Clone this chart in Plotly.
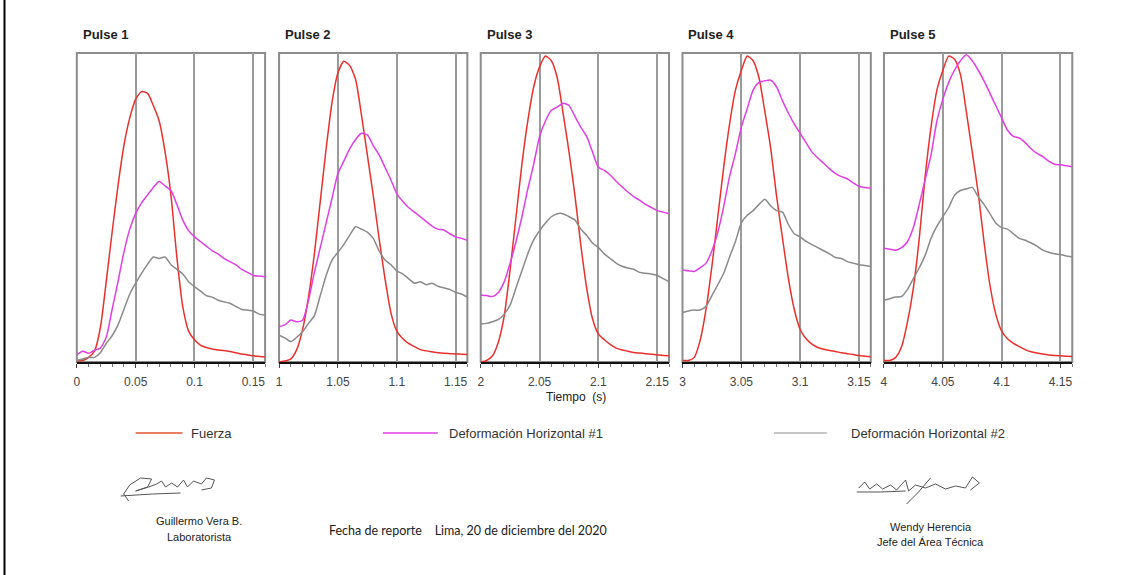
import plotly.graph_objects as go

W, H = 1132, 575

# ---------------- data (y in % of panel height) ----------------
PULSES = ["Pulse 1", "Pulse 2", "Pulse 3", "Pulse 4", "Pulse 5"]
PULSE_START = [0, 1, 2, 3, 4]          # s
T_REL = [round(k * 0.005, 3) for k in range(33)]   # 0 .. 0.16 s within each pulse
TICK_REL = [0, 0.05, 0.1, 0.15]

FUERZA = [
    [0.3, 0.5, 1.5, 3.5, 11, 26, 42, 57, 70, 79, 85, 87.5, 87, 83, 78, 68, 54, 34, 18, 10,
     7.2, 5.5, 4.7, 4.2, 3.9, 3.7, 3.4, 3.0, 2.6, 2.3, 2.0, 1.8, 1.6],
    [0, 0.3, 1, 4, 10.5, 21, 35, 52, 69, 84, 93.5, 97.3, 96, 91.5, 80, 67, 54, 40, 27, 16,
     10, 7.6, 6, 5, 4, 3.6, 3.3, 3.0, 2.8, 2.7, 2.6, 2.5, 2.4],
    [0, 0.5, 2, 6.5, 15, 30, 47, 64, 78, 89, 95.5, 99, 97.5, 92, 80.5, 68, 54, 38, 24, 14,
     9, 7.2, 5.7, 4.5, 3.9, 3.5, 3.1, 2.9, 2.7, 2.5, 2.3, 2.1, 2.0],
    [0.5, 0.5, 1.5, 7, 17, 31, 47, 63, 77, 88, 94.3, 99, 97.5, 92, 81, 69, 53.5, 40, 27, 17,
     10.5, 7.5, 5.8, 4.7, 4.1, 3.7, 3.4, 3.0, 2.7, 2.4, 2.1, 1.9, 1.7],
    [0.5, 0.5, 1.5, 5, 13, 24, 40, 60, 76, 88, 94.3, 99, 98, 93, 81, 68, 55, 39, 25, 15.5,
     10, 7.5, 6, 5, 4, 3.3, 2.9, 2.6, 2.3, 2.1, 2.0, 1.9, 1.8],
]
DEF_H1 = [
    [2.3, 3.5, 2.8, 3.8, 4.5, 8, 17, 26, 35.5, 43, 48, 51.5, 54, 56.5, 58.4, 57, 55.5, 51, 46, 42.5,
     40.5, 39, 37.5, 36, 35, 33.5, 32.5, 31.5, 30, 29, 28, 27.8, 27.6],
    [11.4, 12, 13.6, 13, 13.5, 20, 29, 37, 45, 53, 61, 65, 69, 72, 74, 73.5, 70, 67, 63, 59,
     54.5, 52, 50, 48.5, 47, 45.5, 44, 43, 42.7, 41.5, 40.5, 40, 39.4],
    [21.7, 21.5, 21.2, 22.5, 26, 32, 39, 47, 56, 64, 73, 78, 81.5, 82.5, 83.7, 83, 79.5, 76, 73, 68,
     63, 62, 60.5, 58.5, 56.7, 55, 53.5, 52.4, 51, 50, 49, 48.5, 48],
    [29.8, 29.5, 29.3, 30.5, 32, 36, 42, 50.3, 60, 67.5, 76, 82, 88, 90.5, 91, 91.2, 89, 84.5, 80.5, 77,
     74, 71, 68, 66, 64.3, 62.5, 61, 60, 59.3, 58, 56.8, 56.5, 56.2],
    [36.8, 36.5, 36.2, 37, 39, 43.5, 51, 59, 67, 78, 85, 90.5, 94.5, 97.5, 99.4, 97.5, 94.5, 91, 87, 83,
     79, 75, 73, 72.5, 71, 69, 67.5, 66.5, 65, 64, 63.8, 63.5, 63.2],
]
DEF_H2 = [
    [0.5, 1, 1.5, 1.5, 3, 6, 8.5, 12, 17, 22, 25.5, 28.7, 31.5, 34, 33.5, 34, 31.5, 30, 28.5, 26,
     24.4, 23, 21.5, 21, 20, 19.5, 19, 18, 17, 16.8, 16.5, 15.5, 15.2],
    [8.7, 7.8, 6.6, 8, 9.8, 12.5, 15, 21.5, 28, 33, 35.5, 38, 41, 43.8, 43, 42, 40, 36, 33, 31.5,
     29.5, 28.5, 27, 25.5, 26, 25, 25.5, 24.5, 24, 23.5, 22.5, 22, 21],
    [12.3, 12.5, 13, 13.8, 15.5, 18.5, 24, 29.5, 35, 39.5, 42.5, 45, 47, 48, 48, 47, 46, 43, 41, 38.5,
     37, 35, 33.5, 32, 31, 30.4, 30, 29, 28.7, 28.5, 28, 27, 26],
    [16, 16.5, 16.8, 16.8, 18, 21.5, 25, 28.7, 34, 39, 45, 47.5, 49, 51, 52.7, 50.5, 49, 48.5, 44.5, 41.5,
     40.5, 39, 38, 37, 36, 35, 33.8, 33.5, 32.5, 32, 31.5, 31.2, 30.9],
    [20, 20.5, 21, 21.2, 23.5, 27, 30.5, 34.5, 40, 44, 47, 50, 54, 55.5, 56, 56.5, 53.5, 51, 48, 45,
     43.5, 43, 41.5, 40, 39.4, 38.5, 37.5, 36.2, 35.5, 35, 34.8, 34.3, 34],
]
SERIES_NAMES = ["Fuerza", "Deformación Horizontal #1", "Deformación Horizontal #2"]

# ---------------- styling ----------------
COLORS = ["#e8302c", "#e03ee6", "#8a8a8a"]
LEGEND_COLORS = ["#e4522e", "#e03ee6", "#b5b5b5"]
FONT = "Liberation Sans, Arial, sans-serif"

PANEL_LEFT = [74, 276.8, 479, 681.3, 883.3]   # px
PANEL_W = 188.8
Y_DOM = [(H - 362) / H, (H - 53) / H]

def px(x):
    return x / W

def py(y):
    return 1 - y / H

fig = go.Figure()
layout = {}
shapes = []
annotations = []

for i in range(5):
    sfx = "" if i == 0 else str(i + 1)
    k = PULSE_START[i]
    xs = [k + t for t in T_REL]
    for series, color, name in zip((FUERZA, DEF_H1, DEF_H2), COLORS, SERIES_NAMES):
        fig.add_trace(go.Scatter(
            x=xs, y=series[i], mode="lines", name=name,
            line=dict(color=color, width=1.5, shape="spline", smoothing=0.6),
            xaxis="x" + sfx, yaxis="y" + sfx, showlegend=False, hoverinfo="skip"))
    tickvals = [round(k + t, 3) for t in TICK_REL]
    layout["xaxis" + sfx] = dict(
        domain=[px(PANEL_LEFT[i]), px(PANEL_LEFT[i] + PANEL_W)],
        range=[k, k + 0.16], anchor="y" + sfx,
        tickvals=tickvals, ticktext=[f"{v:g}" for v in tickvals],
        showgrid=True, gridcolor="#9b9b9b", gridwidth=1.5,
        showline=True, linecolor="#111111", linewidth=2,
        ticks="outside", ticklen=4, tickcolor="#444444", tickwidth=1,
        ticklabelstandoff=4,
        minor=dict(dtick=0.01, tick0=k, ticks="outside", ticklen=3,
                   tickcolor="#777777", showgrid=False),
        zeroline=False, fixedrange=True,
        tickfont=dict(family=FONT, size=12, color="#444444"))
    layout["yaxis" + sfx] = dict(
        domain=Y_DOM, range=[0, 100], anchor="x" + sfx,
        showticklabels=False, showgrid=False, zeroline=False, showline=False,
        ticks="", fixedrange=True)
    shapes.append(dict(type="rect", xref=f"x{sfx} domain", yref=f"y{sfx} domain",
                       x0=0, x1=1, y0=0, y1=1, line=dict(color="#8c8c8c", width=2),
                       layer="below"))
    annotations.append(dict(text=f"<b>{PULSES[i]}</b>", x=px(PANEL_LEFT[i] + 4), y=py(35),
                            xref="paper", yref="paper", xanchor="left", yanchor="middle",
                            showarrow=False,
                            font=dict(family=FONT, size=13, color="#222222")))

# axis title
annotations.append(dict(text="Tiempo  (s)", x=px(575), y=py(397), xref="paper", yref="paper",
                        xanchor="center", yanchor="middle", showarrow=False,
                        font=dict(family=FONT, size=12, color="#222222")))

# legend (custom positions)
LEG = [(133, 180, 186), (381, 436, 445), (773, 826, 848)]
for (l0, l1, tx), c, name in zip(LEG, LEGEND_COLORS, SERIES_NAMES):
    shapes.append(dict(type="line", xref="paper", yref="paper", x0=px(l0), x1=px(l1),
                       y0=py(433), y1=py(433), line=dict(color=c, width=1.5)))
    annotations.append(dict(text=name, x=px(tx), y=py(433), xref="paper", yref="paper",
                            xanchor="left", yanchor="middle", showarrow=False,
                            font=dict(family=FONT, size=13, color="#333333")))

# footer texts
foot = [
    ("Guillermo Vera B.", 197, 521, "center", FONT, 11),
    ("Laboratorista", 197, 537, "center", FONT, 11),
    ("Wendy Herencia", 930, 527, "center", FONT, 11),
    ("Jefe del Área Técnica", 930, 542, "center", FONT, 11),
    ("Fecha de reporte    Lima, 20 de diciembre del 2020", 325, 530, "left",
     "Lato, Carlito, sans-serif", 12.5),
]
for txt, x, y, anc, fam, size in foot:
    annotations.append(dict(text=txt.replace("    ", "&nbsp;&nbsp;&nbsp;&nbsp;"),
                            x=px(x), y=py(y), xref="paper", yref="paper",
                            xanchor=anc, yanchor="middle", showarrow=False,
                            font=dict(family=fam, size=size, color="#222222")))

# signature scribbles (decorative)
def path_from(points):
    return "M " + " L ".join(f"{px(a):.5f},{py(b):.5f}" for a, b in points)

sig1 = [(126, 501), (121, 494), (127, 485), (138, 478), (149, 479), (145, 487), (133, 491),
        (146, 487), (154, 484), (159, 481), (163, 487), (169, 483), (175, 487), (181, 480),
        (185, 487), (191, 481), (199, 484), (204, 478), (212, 480), (209, 488), (199, 490)]
sig1b = [(118, 496), (150, 494), (178, 493)]
sig2 = [(858, 488), (864, 482), (869, 489), (876, 484), (882, 489), (890, 485), (896, 490),
        (905, 480), (908, 491), (915, 485), (925, 488), (935, 484), (945, 489), (955, 486),
        (965, 488), (972, 477), (979, 483), (970, 490)]
sig2b = [(856, 492), (880, 492), (905, 491)]
sig2c = [(906, 504), (918, 492), (930, 478)]
for pts in (sig1, sig1b, sig2, sig2b, sig2c):
    shapes.append(dict(type="path", xref="paper", yref="paper", path=path_from(pts),
                       line=dict(color="#555555", width=1)))

# left page border
shapes.append(dict(type="line", xref="paper", yref="paper", x0=px(1.5), x1=px(1.5),
                   y0=0, y1=1, line=dict(color="#000000", width=2)))

fig.update_layout(
    width=W, height=H, margin=dict(l=0, r=0, t=0, b=0),
    paper_bgcolor="white", plot_bgcolor="white",
    showlegend=False, shapes=shapes, annotations=annotations, **layout)

fig.write_html("out.html", config={"displayModeBar": False})
